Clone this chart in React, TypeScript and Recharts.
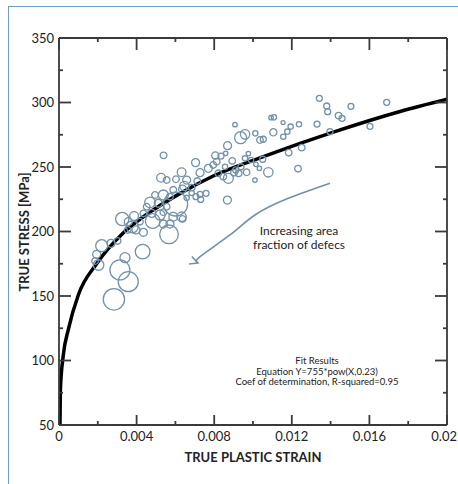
import React from 'react';
import { ComposedChart, Scatter, Line, XAxis, YAxis, ZAxis } from 'recharts';

// measured specimens: [true plastic strain, true stress (MPa), defect area fraction (rel.)]
const specimens: [number, number, number][] = [
  [0.00283, 147.4, 114], [0.00357, 161.1, 100], [0.00314, 170.2, 100], [0.00567, 197.8, 87],
  [0.00601, 221.3, 144], [0.00431, 184.4, 54], [0.00326, 209.7, 44], [0.0022, 189.0, 36],
  [0.00204, 174.0, 28], [0.0034, 179.7, 25], [0.00483, 208.1, 54], [0.00469, 222.6, 28],
  [0.00387, 212.0, 19], [0.00378, 203.7, 36], [0.00435, 199.4, 16], [0.00521, 212.8, 25],
  [0.00632, 211.5, 22], [0.00538, 205.8, 16], [0.00572, 205.8, 16], [0.00936, 272.7, 36],
  [0.00959, 275.3, 22], [0.00632, 245.9, 19], [0.00526, 241.7, 19], [0.00539, 259.0, 11],
  [0.00704, 253.4, 16], [0.00868, 224.4, 16], [0.00869, 266.5, 16], [0.00873, 241.2, 25],
  [0.00893, 254.7, 11], [0.01079, 245.9, 22], [0.01105, 276.9, 13], [0.01232, 248.7, 11],
  [0.01184, 261.1, 11], [0.01251, 265.0, 11], [0.01342, 303.2, 9], [0.0138, 297.3, 9],
  [0.01385, 292.9, 9], [0.01505, 297.0, 9], [0.01689, 300.1, 9], [0.01441, 289.8, 11],
  [0.01459, 287.7, 9], [0.0133, 283.3, 9], [0.01397, 277.4, 9], [0.01603, 281.5, 9],
  [0.01237, 283.1, 7], [0.01194, 281.3, 7], [0.01177, 277.4, 7], [0.01156, 273.5, 7],
  [0.01155, 284.4, 4], [0.01108, 288.5, 7], [0.01093, 288.2, 5], [0.01012, 276.1, 7],
  [0.01036, 270.9, 11], [0.01053, 271.5, 9], [0.00907, 282.8, 5], [0.00976, 260.4, 5],
  [0.01015, 252.1, 5], [0.01033, 249.0, 5], [0.0105, 256.0, 9], [0.0101, 239.9, 5],
  [0.00967, 245.9, 11], [0.00926, 245.1, 11], [0.00902, 245.6, 11], [0.00835, 258.5, 9],
  [0.00806, 259.0, 13], [0.00813, 254.1, 11], [0.00795, 251.6, 11], [0.0077, 249.0, 16],
  [0.00727, 245.6, 16], [0.00713, 239.1, 11], [0.00684, 234.0, 11], [0.00658, 239.9, 16],
  [0.00646, 235.3, 22], [0.00603, 240.5, 11], [0.00555, 239.9, 11], [0.00758, 229.6, 9],
  [0.00727, 228.8, 9], [0.00706, 227.0, 9], [0.0073, 224.9, 9], [0.00821, 245.1, 11],
  [0.00847, 242.5, 11], [0.00859, 260.6, 5], [0.00856, 250.2, 7], [0.00911, 247.7, 9],
  [0.00938, 250.2, 9], [0.00959, 256.7, 7], [0.0099, 255.4, 7], [0.00495, 228.3, 11],
  [0.00512, 221.9, 16], [0.00538, 228.3, 25], [0.00572, 227.0, 11], [0.00589, 232.3, 11],
  [0.00637, 232.8, 16], [0.00452, 219.2, 11], [0.00435, 214.0, 11], [0.00417, 207.6, 11],
  [0.00357, 207.6, 16], [0.00354, 201.2, 11], [0.00397, 201.2, 16], [0.00538, 214.9, 11],
  [0.00637, 209.7, 11], [0.00268, 190.8, 16], [0.00302, 192.7, 11], [0.00194, 182.3, 16],
  [0.00186, 177.1, 11], [0.00589, 211.5, 19], [0.00555, 219.2, 11], [0.00478, 214.0, 16],
  [0.00684, 229.9, 7], [0.00658, 226.1, 7],
];

// fitted power law Y = 755 * X^0.23
const fitStrain = [0.00005, 0.00007, 0.00022, 0.00048, 0.001, 0.00194, 0.00332, 0.00469, 0.00607, 0.00795, 0.01071, 0.01414, 0.01758, 0.02];
const fitStress = [50, 77, 104, 124, 151, 175, 199, 215, 228, 243, 259, 277, 293, 302.5];

// annotation arrow path
const arrowStrain = [0.01397, 0.01182, 0.0101, 0.00881, 0.00727, 0.00716];
const arrowStress = [237.4, 225.7, 212.8, 197.3, 180.5, 175.6];

const strainTicks = [0, 0.002, 0.004, 0.006, 0.008, 0.01, 0.012, 0.014, 0.016, 0.018, 0.02];
const stressTicks = [50, 75, 100, 125, 150, 175, 200, 225, 250, 275, 300, 325, 350];

const bubbles = specimens.map(([x, y, z]) => ({ x, y, z }));
const fitData = fitStrain.map((x, i) => ({ x, y: fitStress[i] }));
const arrowData = arrowStrain.map((x, i) => ({ x, y: arrowStress[i] }));

const AXIS = '#3a3a3a';
const BLUE = '#7191ab';
const FONT = 'Lato, "DejaVu Sans", sans-serif';

const isMajorX = (v: number) => Math.round(v * 1000) % 4 === 0;
const isMajorY = (v: number) => v % 50 === 0;

const BottomTick = (props: any) => {
  const { x, y, payload } = props;
  const major = isMajorX(payload.value);
  const last = payload.value === 0.02;
  return (
    <g>
      <line x1={x} x2={x} y1={y} y2={y - (major ? 10 : 4)} stroke={AXIS} strokeWidth={1.8} />
      {major && (
        <text
          x={last ? x + 10 : x}
          y={y + 16}
          textAnchor={last ? 'end' : 'middle'}
          fontSize={13}
          fill="#222"
          fontFamily={FONT}
        >
          {payload.value === 0 ? '0' : String(payload.value)}
        </text>
      )}
    </g>
  );
};

const TopTick = (props: any) => {
  const { x, y, payload } = props;
  const major = isMajorX(payload.value);
  return <line x1={x} x2={x} y1={y} y2={y + (major ? 12 : 4)} stroke={AXIS} strokeWidth={1.8} />;
};

const LeftTick = (props: any) => {
  const { x, y, payload } = props;
  const major = isMajorY(payload.value);
  return (
    <g>
      <line x1={x} x2={x + (major ? 12 : 4)} y1={y} y2={y} stroke={AXIS} strokeWidth={1.8} />
      {major && (
        <text x={x - 5} y={y} dy={4.5} textAnchor="end" fontSize={13} fill="#222" fontFamily={FONT}>
          {payload.value}
        </text>
      )}
    </g>
  );
};

const RightTick = (props: any) => {
  const { x, y, payload } = props;
  const major = isMajorY(payload.value);
  return <line x1={x} x2={x - (major ? 12 : 4)} y1={y} y2={y} stroke={AXIS} strokeWidth={1.8} />;
};

export default function App() {
  return (
    <div>
      <div
        style={{
          position: 'absolute',
          left: 8,
          top: 6,
          width: 460,
          height: 477,
          borderLeft: '1.5px solid #6e9cc2',
          borderTop: '1.5px solid #6e9cc2',
          borderBottom: '1px solid #e4e7ea',
        }}
      />
      <svg width={0} height={0} style={{ position: 'absolute' }}>
        <defs>
          <marker id="arrowHead" markerUnits="userSpaceOnUse" markerWidth={12} markerHeight={12} refX={9} refY={5} orient="auto">
            <path d="M1,1 L9,5 L1,9" fill="none" stroke={BLUE} strokeWidth={1.6} />
          </marker>
        </defs>
      </svg>
      <div style={{ position: 'absolute', left: 0, top: 0 }}>
        <ComposedChart width={458} height={484} margin={{ top: 37, right: 10, bottom: 19, left: 9 }}>
          <XAxis
            dataKey="x"
            type="number"
            domain={[0, 0.02]}
            ticks={strainTicks}
            interval={0}
            height={40}
            tickSize={0}
            tickMargin={0}
            tickLine={false}
            tick={BottomTick}
            axisLine={{ stroke: AXIS, strokeWidth: 1.8 }}
            allowDataOverflow
          />
          <XAxis
            xAxisId="top"
            dataKey="x"
            orientation="top"
            type="number"
            domain={[0, 0.02]}
            ticks={strainTicks}
            interval={0}
            height={1}
            tickSize={0}
            tickMargin={0}
            tickLine={false}
            tick={TopTick}
            axisLine={{ stroke: AXIS, strokeWidth: 1.8 }}
            allowDataOverflow
          />
          <YAxis
            dataKey="y"
            type="number"
            domain={[50, 350]}
            ticks={stressTicks}
            interval={0}
            width={50}
            tickSize={0}
            tickMargin={0}
            tickLine={false}
            tick={LeftTick}
            axisLine={{ stroke: AXIS, strokeWidth: 1.8 }}
            allowDataOverflow
          />
          <YAxis
            yAxisId="right"
            dataKey="y"
            orientation="right"
            type="number"
            domain={[50, 350]}
            ticks={stressTicks}
            interval={0}
            width={1}
            tickSize={0}
            tickMargin={0}
            tickLine={false}
            tick={RightTick}
            axisLine={{ stroke: AXIS, strokeWidth: 1.8 }}
            allowDataOverflow
          />
          <ZAxis dataKey="z" type="number" domain={[0, 144]} range={[0, 452]} />
          <Scatter
            data={bubbles}
            shape="circle"
            fill="none"
            stroke={BLUE}
            strokeWidth={1.3}
            isAnimationActive={false}
          />
          <Line
            data={arrowData}
            dataKey="y"
            type="natural"
            stroke={BLUE}
            strokeWidth={1.6}
            dot={false}
            activeDot={false}
            markerEnd="url(#arrowHead)"
            isAnimationActive={false}
          />
          <Line
            data={fitData}
            dataKey="y"
            xAxisId="top"
            yAxisId="right"
            type="monotone"
            stroke="#000"
            strokeWidth={3.5}
            dot={false}
            activeDot={false}
            isAnimationActive={false}
          />
        </ComposedChart>
      </div>
      <svg width={458} height={484} style={{ position: 'absolute', left: 0, top: 0, pointerEvents: 'none' }}>
        <g fontFamily={FONT} fill="#222">
          <text x={253} y={462} textAnchor="middle" fontSize={13} fontWeight={700}>
            TRUE PLASTIC STRAIN
          </text>
          <text transform="translate(29,232) rotate(-90)" textAnchor="middle" fontSize={13} fontWeight={700}>
            TRUE STRESS [MPa]
          </text>
          <text x={299} y={235} textAnchor="middle" fontSize={12}>Increasing area</text>
          <text x={299} y={249} textAnchor="middle" fontSize={12}>fraction of defecs</text>
          <text x={317} y={364} textAnchor="middle" fontSize={9.5}>Fit Results</text>
          <text x={317} y={374.5} textAnchor="middle" fontSize={9.5}>Equation Y=755*pow(X,0.23)</text>
          <text x={317} y={385} textAnchor="middle" fontSize={9.5}>Coef of determination, R-squared=0.95</text>
        </g>
      </svg>
    </div>
  );
}
